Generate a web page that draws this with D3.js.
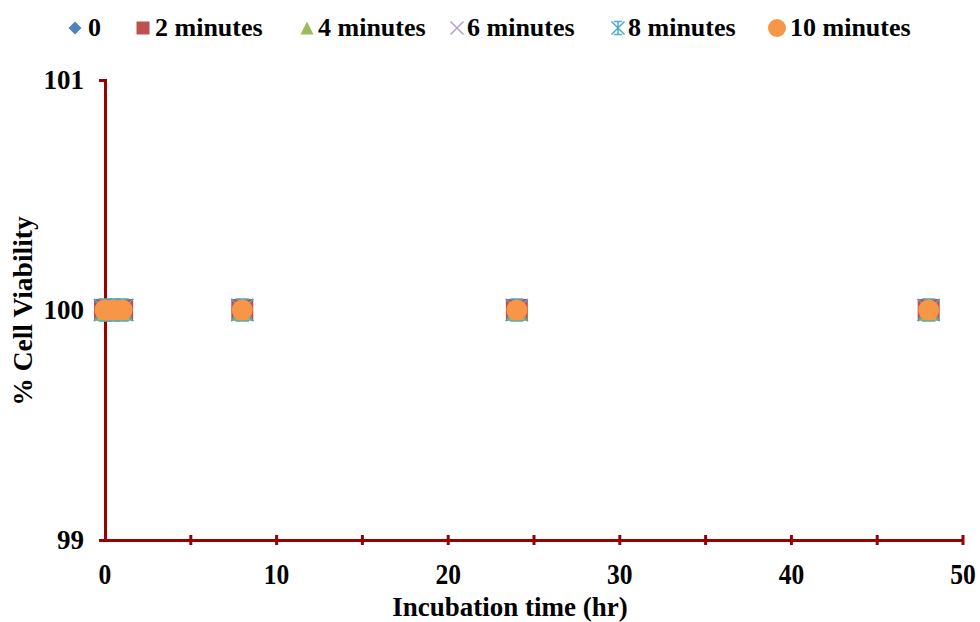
<!DOCTYPE html>
<html>
<head>
<meta charset="utf-8">
<script src="https://cdn.jsdelivr.net/npm/d3@7"></script>
<style>
  html, body { margin: 0; padding: 0; background: #fff; }
</style>
</head>
<body>
<svg id="chart" width="980" height="622"></svg>
<script>
// Incubation times (hr) and % viability for each exposure duration
const times = [0, 0.5, 1, 8, 24, 48];
const seriesNames = ["0", "2 minutes", "4 minutes", "6 minutes", "8 minutes", "10 minutes"];
const viability0  = [100, 100, 100, 100, 100, 100];
const viability2  = [100, 100, 100, 100, 100, 100];
const viability4  = [100, 100, 100, 100, 100, 100];
const viability6  = [100, 100, 100, 100, 100, 100];
const viability8  = [100, 100, 100, 100, 100, 100];
const viability10 = [100, 100, 100, 100, 100, 100];
const xTicks = [0, 10, 20, 30, 40, 50];
const yTicks = [99, 100, 101];

const seriesValues = [viability0, viability2, viability4, viability6, viability8, viability10];
const markerTypes = ["diamond", "square", "triangle", "cross", "asterisk", "circle"];
const colors = ["#4F81BD", "#C0504D", "#9BBB59", "#8064A2", "#4BACC6", "#F79646"];
const axisColor = "#990000";
const fontFamily = "'Liberation Serif', 'Times New Roman', Times, serif";

const svg = d3.select("#chart")
  .attr("font-family", fontFamily)
  .attr("font-weight", "bold");

const x = d3.scaleLinear().domain([0, 50]).range([105, 963]);
const y = d3.scaleLinear().domain([99, 101]).range([540, 80]);

// Marker shapes, drawn centred at the origin
function marker(g, type, color, s) {
  const h = s / 2;
  if (type === "diamond") {
    g.append("path").attr("d", `M0,${-h}L${h},0L0,${h}L${-h},0Z`).attr("fill", color);
  } else if (type === "square") {
    g.append("rect").attr("x", -h).attr("y", -h).attr("width", s).attr("height", s).attr("fill", color);
  } else if (type === "triangle") {
    g.append("path").attr("d", `M0,${-h}L${h},${h}L${-h},${h}Z`).attr("fill", color);
  } else if (type === "cross") {
    g.append("path").attr("d", `M${-h},${-h}L${h},${h}M${h},${-h}L${-h},${h}`)
      .attr("stroke", color).attr("stroke-width", 1.5).attr("fill", "none");
  } else if (type === "asterisk") {
    g.append("path").attr("d", `M${-h},${-h}L${h},${h}M${h},${-h}L${-h},${h}M${-h*0.6},${-h}L${h*0.6},${-h}M${-h*0.6},${h}L${h*0.6},${h}M0,${-h}L0,${h}`)
      .attr("stroke", color).attr("stroke-width", 1.5).attr("fill", "none");
  } else if (type === "circle") {
    g.append("circle").attr("r", h).attr("fill", color);
  }
}

// Axes
const xAxis = d3.axisBottom(x).tickValues(d3.range(0, 51, 5)).tickSize(0).tickFormat("");
svg.append("g").attr("transform", `translate(0,${y(99)})`).call(xAxis)
  .call(g => g.select(".domain").attr("stroke", axisColor).attr("stroke-width", 3));
// x tick marks cross the axis line
svg.append("g").selectAll("line").data(d3.range(5, 51, 5)).join("line")
  .attr("x1", d => x(d)).attr("x2", d => x(d))
  .attr("y1", y(99) - 5).attr("y2", y(99) + 5)
  .attr("stroke", axisColor).attr("stroke-width", 3);
svg.append("g").selectAll("text").data(xTicks).join("text")
  .attr("transform", d => `translate(${x(d)},584) scale(0.88,1)`)
  .attr("text-anchor", "middle")
  .attr("font-size", 29).text(d => d);

const yAxis = d3.axisLeft(y).tickValues(yTicks).tickSize(6).tickFormat("");
svg.append("g").attr("transform", `translate(${x(0)},0)`).call(yAxis)
  .call(g => g.select(".domain").attr("stroke", axisColor).attr("stroke-width", 3))
  .call(g => g.selectAll(".tick line").attr("stroke", axisColor).attr("stroke-width", 3));
svg.append("g").selectAll("text").data(yTicks).join("text")
  .attr("x", 84).attr("y", d => y(d) + 9).attr("text-anchor", "end")
  .attr("font-size", 27).text(d => d);

// Axis titles
svg.append("text").attr("x", 510).attr("y", 616).attr("text-anchor", "middle")
  .attr("font-size", 27).text("Incubation time (hr)");
svg.append("text").attr("transform", "translate(32,311) rotate(-90)")
  .attr("text-anchor", "middle").attr("font-size", 27.5).text("% Cell Viability");

// Data markers
seriesValues.forEach((vals, i) => {
  const g = svg.append("g");
  times.forEach((t, j) => {
    const m = g.append("g").attr("transform", `translate(${x(t)},${y(vals[j])})`);
    marker(m, markerTypes[i], colors[i], markerTypes[i] === "circle" ? 21 : 22);
  });
});

// Legend
const legendX = [75, 143, 307, 457, 618, 777];
const legendTextX = [88, 155, 318, 467, 628, 790];
const legend = svg.append("g");
seriesNames.forEach((name, i) => {
  const m = legend.append("g").attr("transform", `translate(${legendX[i]},28)`);
  marker(m, markerTypes[i], i === 3 ? "#B3A2C7" : colors[i], markerTypes[i] === "circle" ? 18 : 13);
  legend.append("text").attr("x", legendTextX[i]).attr("y", 36)
    .attr("font-size", 26).text(name);
});
</script>
</body>
</html>
